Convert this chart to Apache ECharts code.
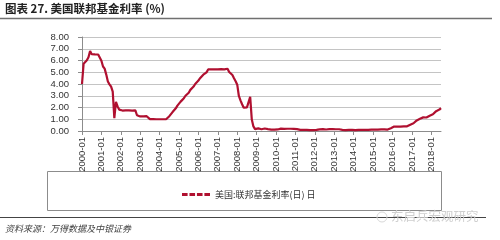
<!DOCTYPE html>
<html>
<head>
<meta charset="utf-8">
<script src="https://cdn.jsdelivr.net/npm/echarts@6/dist/echarts.min.js"></script>
<style>
html,body{margin:0;padding:0;background:#fff;}
#c{width:500px;height:240px;}
</style>
</head>
<body>
<div id="c"></div>
<script>
// Monthly categories 2000-01 .. 2018-07
const years = ['2000','2001','2002','2003','2004','2005','2006','2007','2008','2009','2010','2011','2012','2013','2014','2015','2016','2017','2018'];
const months = ['01','02','03','04','05','06','07','08','09','10','11','12'];
const lastMonthOf2018 = 7;

const v2000 = [4.00,5.73,5.85,6.02,6.27,6.80,6.54,6.50,6.52,6.51,6.51,6.40];
const v2001 = [5.98,5.49,5.31,4.80,4.21,3.97,3.77,3.35,1.10,2.49,2.09,1.82];
const v2002 = [1.73,1.74,1.73,1.75,1.75,1.75,1.73,1.74,1.75,1.75,1.34,1.24];
const v2003 = [1.24,1.26,1.25,1.26,1.26,1.22,1.01,1.03,1.01,1.01,1.00,0.98];
const v2004 = [1.00,1.01,1.00,1.00,1.00,1.03,1.26,1.43,1.61,1.76,1.93,2.16];
const v2005 = [2.28,2.50,2.63,2.79,3.00,3.04,3.26,3.50,3.62,3.78,4.00,4.16];
const v2006 = [4.29,4.49,4.59,4.79,4.94,4.99,5.24,5.25,5.25,5.25,5.25,5.24];
const v2007 = [5.25,5.26,5.26,5.25,5.25,5.25,5.30,5.02,4.94,4.76,4.49,4.24];
const v2008 = [3.94,2.98,2.61,2.28,1.98,2.00,2.01,2.00,2.90,0.97,0.39,0.16];
const v2009 = [0.15,0.22,0.18,0.15,0.18,0.21,0.16,0.16,0.15,0.12,0.12,0.12];
const v2010 = [0.11,0.13,0.16,0.20,0.20,0.18,0.18,0.19,0.19,0.19,0.19,0.18];
const v2011 = [0.17,0.16,0.14,0.10,0.09,0.09,0.07,0.10,0.08,0.07,0.08,0.07];
const v2012 = [0.08,0.10,0.13,0.14,0.16,0.16,0.16,0.13,0.14,0.16,0.16,0.16];
const v2013 = [0.14,0.15,0.14,0.15,0.11,0.09,0.09,0.08,0.08,0.09,0.08,0.09];
const v2014 = [0.07,0.07,0.08,0.09,0.09,0.10,0.09,0.09,0.09,0.09,0.09,0.12];
const v2015 = [0.11,0.11,0.11,0.12,0.12,0.13,0.13,0.14,0.14,0.12,0.12,0.24];
const v2016 = [0.34,0.38,0.36,0.37,0.37,0.38,0.39,0.40,0.40,0.40,0.41,0.54];
const v2017 = [0.65,0.66,0.79,0.90,0.91,1.04,1.15,1.16,1.15,1.15,1.16,1.30];
const v2018 = [1.41,1.42,1.51,1.69,1.70,1.82,1.95];

const seriesName = '美国:联邦基金利率(日) 日';
const yTicks = [0,1,2,3,4,5,6,7,8];

const categories = [];
years.forEach(function(y){
  const n = (y === '2018') ? lastMonthOf2018 : 12;
  for (let i = 0; i < n; i++) categories.push(y + '-' + months[i]);
});
const values = [].concat(v2000,v2001,v2002,v2003,v2004,v2005,v2006,v2007,v2008,v2009,v2010,v2011,v2012,v2013,v2014,v2015,v2016,v2017,v2018);

const chart = echarts.init(document.getElementById('c'), null, {renderer:'canvas'});
const lineColor = '#B01030';
chart.setOption({
  animation: false,
  backgroundColor: '#fff',
  grid: {left: 82, right: 59, top: 37, bottom: 109, containLabel: false},
  xAxis: {
    type: 'category',
    data: categories,
    boundaryGap: false,
    axisLine: {show: true, lineStyle: {color: '#8c8c8c', width: 1}},
    axisTick: {show: true, interval: 11, length: 4, lineStyle: {color: '#8c8c8c'}},
    axisLabel: {interval: 11, rotate: 90, margin: 6, fontSize: 9.5, color: '#333', fontFamily: 'Liberation Sans, Arial'},
    splitLine: {show: false}
  },
  yAxis: {
    type: 'value',
    min: yTicks[0], max: yTicks[yTicks.length-1], interval: 1,
    axisLine: {show: true, lineStyle: {color: '#8c8c8c', width: 1}},
    axisTick: {show: true, length: 4, lineStyle: {color: '#8c8c8c'}},
    axisLabel: {margin: 13, fontSize: 9.5, color: '#333', fontFamily: 'Liberation Sans, Arial', formatter: function(v){return v.toFixed(2);}},
    splitLine: {show: true, lineStyle: {color: '#c4c4c4', width: 1}}
  },
  legend: {
    show: true,
    left: 177, top: 185,
    itemWidth: 28, itemHeight: 3, itemGap: 5,
    icon: 'path://M0,0H6V3H0Z M8,0H14V3H8Z M16,0H22V3H16Z M24,0H30V3H24Z',
    textStyle: {fontSize: 9, color: '#333', fontFamily: 'Noto Sans CJK SC'},
    data: [{name: seriesName, itemStyle: {color: lineColor}}]
  },
  series: [{
    name: seriesName,
    type: 'line',
    data: values,
    symbol: 'none',
    lineStyle: {color: lineColor, width: 2.2},
    itemStyle: {color: lineColor}
  }],
  graphic: [
    {type: 'text', left: 5, top: 3, style: {text: '图表 27. 美国联邦基金利率 (%)', fontSize: 11.5, fontWeight: 'bold', fill: '#222', fontFamily: 'Noto Sans CJK SC'}},
    {type: 'line', shape: {x1: 0, y1: 18.5, x2: 492, y2: 18.5}, style: {stroke: '#707070', lineWidth: 1.5}},
    {type: 'rect', shape: {x: 47.5, y: 171.5, width: 394, height: 39}, style: {fill: 'none', stroke: '#8c8c8c', lineWidth: 1}},
    {type: 'line', shape: {x1: 0, y1: 217.5, x2: 486, y2: 217.5}, style: {stroke: '#444', lineWidth: 1}},
    {type: 'circle', shape: {cx: 382, cy: 217, r: 5}, style: {fill: 'none', stroke: '#d8d8d8', lineWidth: 1}},
    {type: 'text', left: 391, top: 210, style: {text: '东启兵宏观研究', fontSize: 12.5, fill: '#cfcfcf', fontFamily: 'Noto Sans CJK SC'}},
    {type: 'text', left: 5, top: 224, style: {text: '资料来源：万得数据及中银证券', fontSize: 9, fontStyle: 'italic', fill: '#444', fontFamily: 'Noto Sans CJK SC'}}
  ]
});
</script>
</body>
</html>
